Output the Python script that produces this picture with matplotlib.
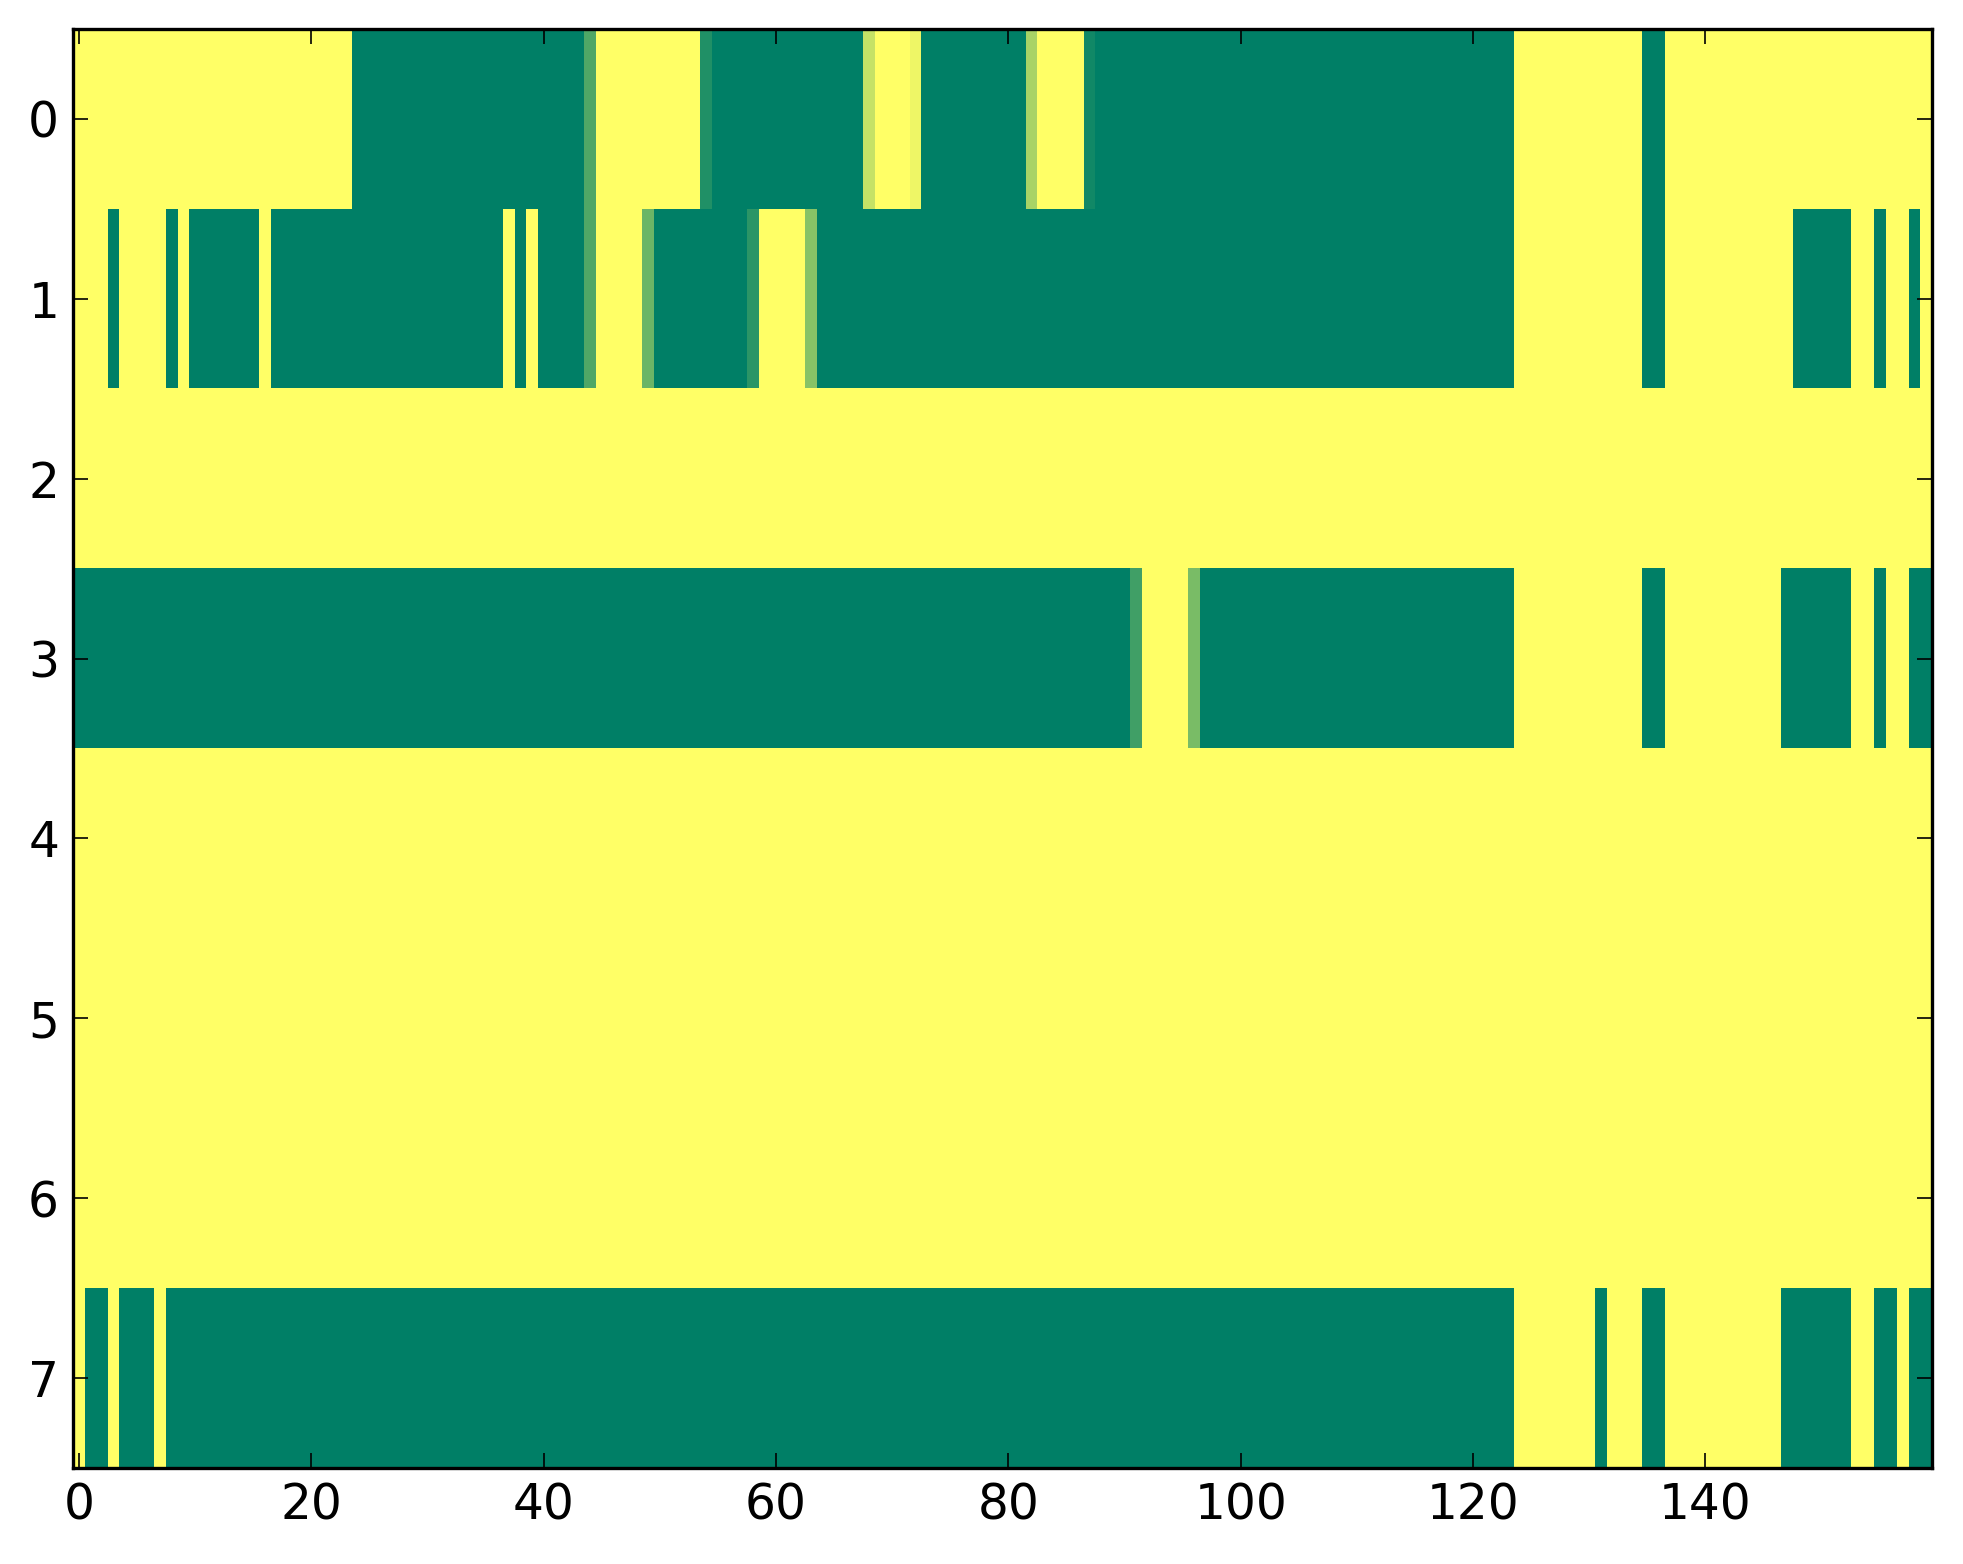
import numpy as np
import matplotlib
matplotlib.use("Agg")
import matplotlib.pyplot as plt

# Each row is stored as runs: values and run lengths (160 columns total)
row0_vals = [1, 0, 0.31, 1, 0.13, 0, 0.77, 1, 0.93, 0, 0.66, 1, 0.07, 0, 1, 0, 1]
row0_lens = [24, 20, 1, 9, 1, 13, 1, 3, 1, 9, 1, 4, 1, 36, 11, 2, 23]

row1_vals = [1, 0, 1, 0, 1, 0, 1, 0, 1, 0, 1, 0, 0.31, 1, 0.42, 0, 0.17, 1, 0.53, 0,
             1, 0, 1, 0, 1, 0, 1, 0, 1]
row1_lens = [3, 1, 4, 1, 1, 6, 1, 20, 1, 1, 1, 4, 1, 4, 1, 8, 1, 4, 1, 60,
             11, 2, 11, 5, 2, 1, 2, 1, 1]

row2_vals = [1]
row2_lens = [160]

row3_vals = [0, 0.25, 1, 0.48, 0, 1, 0, 1, 0, 1, 0, 1, 0]
row3_lens = [91, 1, 4, 1, 27, 11, 2, 10, 6, 2, 1, 2, 2]

row4_vals = [1]
row4_lens = [160]
row5_vals = [1]
row5_lens = [160]
row6_vals = [1]
row6_lens = [160]

row7_vals = [1, 0, 1, 0, 1, 0, 1, 0, 1, 0, 1, 0, 1, 0, 1, 0]
row7_lens = [1, 2, 1, 3, 1, 116, 7, 1, 3, 2, 10, 6, 2, 2, 1, 2]

rows = [(row0_vals, row0_lens), (row1_vals, row1_lens), (row2_vals, row2_lens),
        (row3_vals, row3_lens), (row4_vals, row4_lens), (row5_vals, row5_lens),
        (row6_vals, row6_lens), (row7_vals, row7_lens)]
data = np.array([np.repeat(v, l) for v, l in rows], dtype=float)

xticks = [0, 20, 40, 60, 80, 100, 120, 140]
yticks = [0, 1, 2, 3, 4, 5, 6, 7]

W, H = 1963, 1564
fig = plt.figure(figsize=(W / 100, H / 100), dpi=100)
ax = fig.add_axes([73 / W, 1 - 1468 / H, (1932 - 73) / W, (1468 - 29) / H])
ax.imshow(data, cmap="summer", vmin=0, vmax=1, aspect="auto", interpolation="nearest")
ax.set_xticks(xticks)
ax.set_yticks(yticks)
ax.tick_params(direction="in", top=True, right=True, length=10.8, width=1.2,
               labelsize=35, pad=10, labeltop=False, labelright=False)
for s in ax.spines.values():
    s.set_linewidth(2.4)

fig.savefig("out.png", dpi=100)
